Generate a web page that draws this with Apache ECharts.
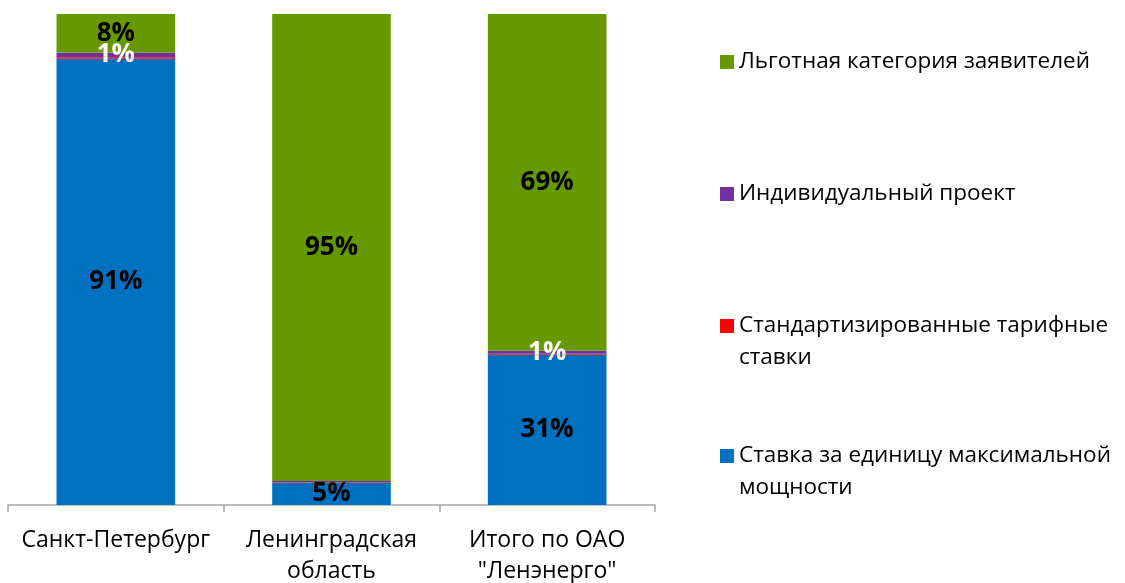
<!DOCTYPE html>
<html>
<head>
<meta charset="utf-8">
<script src="https://cdn.jsdelivr.net/npm/echarts@6/dist/echarts.min.js"></script>
<style>
  html, body { margin: 0; padding: 0; background: #fff; }
  #chart { width: 1125px; height: 583px; }
</style>
</head>
<body>
<div id="chart"></div>
<script>
// categories along the x axis
const categories = ['Санкт-Петербург', 'Ленинградская\nобласть', 'Итого по ОАО\n"Ленэнерго"'];

// shares in % (stack order bottom -> top)
const blueVals   = [90.9, 4.6, 30.6];   // Ставка за единицу максимальной мощности
const redVals    = [0.3, 0.1, 0.2];     // Стандартизированные тарифные ставки
const purpleVals = [0.9, 0.2, 0.6];     // Индивидуальный проект
const greenVals  = [7.9, 95.1, 68.6];   // Льготная категория заявителей

const names = [
    'Ставка за единицу максимальной мощности',
    'Стандартизированные тарифные ставки',
    'Индивидуальный проект',
    'Льготная категория заявителей'
];
const legendText = {
    'Льготная категория заявителей': 'Льготная категория заявителей',
    'Индивидуальный проект': 'Индивидуальный проект',
    'Стандартизированные тарифные ставки': '\nСтандартизированные тарифные\nставки',
    'Ставка за единицу максимальной мощности': '\nСтавка за единицу максимальной\nмощности'
};

const FONT = '"Open Sans", "DejaVu Sans", sans-serif';
const colors = ['#0070c0', '#ff0000', '#7030a0', '#669900'];
const labelColors = ['#000', '#000', '#fff', '#000'];

function makeSeries(name, data, idx) {
    return {
        name: name,
        type: 'bar',
        stack: 'total',
        barWidth: '55%',
        data: data,
        itemStyle: { color: colors[idx] },
        label: {
            show: idx !== 1,
            position: 'inside',
            fontFamily: FONT,
            fontWeight: 'bold',
            fontSize: 26,
            color: labelColors[idx],
            formatter: p => (Math.round(p.value) >= 1 ? Math.round(p.value) + '%' : '')
        }
    };
}

function makeLegend(name, top) {
    return {
        data: [{ name: name, icon: 'rect' }],
        left: 715,
        top: top,
        itemWidth: 14,
        itemHeight: 14,
        selectedMode: false,
        formatter: n => legendText[n],
        textStyle: { fontFamily: FONT, fontSize: 22.5, color: '#000', lineHeight: 32 }
    };
}

const chart = echarts.init(document.getElementById('chart'));
chart.setOption({
    animation: false,
    grid: { left: 8, right: 470, top: 14, bottom: 78, outerBoundsMode: 'none' },
    legend: [
        makeLegend(names[3], 41),
        makeLegend(names[2], 173),
        makeLegend(names[1], 273),
        makeLegend(names[0], 403)
    ],
    xAxis: {
        type: 'category',
        data: categories,
        axisLine: { lineStyle: { color: '#a6a6a6', width: 1.5 } },
        axisTick: { show: true, length: 7, lineStyle: { color: '#a6a6a6', width: 1.5 } },
        axisLabel: {
            interval: 0,
            hideOverlap: false,
            fontFamily: FONT,
            fontSize: 23,
            color: '#000',
            lineHeight: 31,
            margin: 20
        }
    },
    yAxis: { type: 'value', min: 0, max: 100, show: false },
    series: [
        makeSeries(names[0], blueVals, 0),
        makeSeries(names[1], redVals, 1),
        makeSeries(names[2], purpleVals, 2),
        makeSeries(names[3], greenVals, 3)
    ]
});
</script>
</body>
</html>
